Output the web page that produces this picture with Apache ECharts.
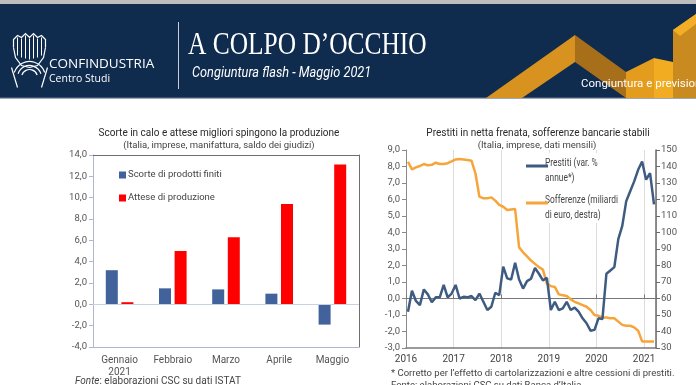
<!DOCTYPE html>
<html><head><meta charset="utf-8">
<script src="https://cdn.jsdelivr.net/npm/echarts@6/dist/echarts.min.js"></script>
<style>html,body{margin:0;padding:0;background:#fff}#c{width:696px;height:385px}</style>
</head><body><div id="c"></div>
<script>
// ---- Left chart data ----
const barCategories = ['Gennaio\n2021', 'Febbraio', 'Marzo', 'Aprile', 'Maggio'];
const scorte = [3.2, 1.5, 1.4, 1.0, -1.9];
const attese = [0.2, 5.0, 6.3, 9.4, 13.1];
const barYTicks = [-4, 14, 2];

// ---- Right chart data (monthly, Jan 2016 - Mar 2021) ----
const yearLabels = [2016, 2017, 2018, 2019, 2020, 2021];
const prestitiName = 'Prestiti (var. %\nannue*)';
const sofferenzeName = 'Sofferenze (miliardi\ndi euro, destra)';
const prestiti = [-0.8, 0.47, -0.15, -0.4, 0.55, 0.25, -0.23, 0.07, 0.07, 0.82, 0.07, 0.3,
  0.82, 0.0, 0.1, 0.07, 0.15, -0.1, 0.3, -0.2, -0.7, -0.5, 0.35, 0.2,
  1.93, 1.22, 1.15, 2.17, 1.15, 0.6, 1.05, 1.2, 1.85, 1.5, 1.1, 1.25,
  -0.7, -0.2, -0.7, -0.6, -0.2, -0.7, -0.55, -0.8, -1.2, -1.5, -1.95, -1.9,
  -1.2, -1.25, 1.5, 1.7, 1.9, 3.6, 4.4, 5.9, 6.5, 7.1, 7.8, 8.3, 7.2, 7.6, 5.7];
const sofferenze = [142.9, 138.3, 139.5, 140.3, 141.5, 140.7, 141, 142.3, 141.5, 141.5, 142, 143.1,
  144.3, 144.5, 144.3, 143.9, 143.5, 135.9, 121.7, 120.7, 120.7, 121.3, 119.3, 116.7,
  115.6, 113.6, 114, 114.2, 91, 88, 85.5, 83, 81, 79, 77.5, 69,
  67.5, 67, 62.5, 62, 61.5, 59.5, 58, 57, 56, 55, 53, 50,
  49.5, 48.5, 48.5, 48, 48, 46, 44, 43.5, 43.5, 42.5, 40.5, 34, 34, 34, 34];

const toXY = arr => arr.map((v, i) => [i + 0.5, v]);
const comma = v => v.toFixed(1).replace('.', ',');

const NAVY = '#0f2b4e';
const FONT = 'Roboto, "Open Sans", sans-serif';
const BLUE_BAR = '#41629a';
const RED_BAR = '#ff0000';
const BLUE_LINE = '#3e5b82';
const ORANGE_LINE = '#f6a53a';

const chart = echarts.init(document.getElementById('c'), null, {renderer: 'canvas'});

const lightAx = '#aab8d2';
const darkAx = '#6e6e6e';

const option = {
  animation: false,
  backgroundColor: '#ffffff',
  textStyle: {fontFamily: FONT},
  title: [
    {text: 'Scorte in calo e attese migliori spingono la produzione', left: 214, top: 123, textAlign: 'center',
     textStyle: {fontSize: 10, fontWeight: 'normal', color: '#2a2a2a', fontFamily: FONT}},
    {text: '(Italia, imprese, manifattura, saldo dei giudizi)', left: 214, top: 136, textAlign: 'center',
     textStyle: {fontSize: 9.5, fontWeight: 'normal', color: '#444', fontFamily: FONT}},
    {text: 'Prestiti in netta frenata, sofferenze bancarie stabili', left: 533, top: 123, textAlign: 'center',
     textStyle: {fontSize: 10, fontWeight: 'normal', color: '#2a2a2a', fontFamily: FONT}},
    {text: '(Italia, imprese, dati mensili)', left: 532, top: 136, textAlign: 'center',
     textStyle: {fontSize: 9.5, fontWeight: 'normal', color: '#444', fontFamily: FONT}}
  ],
  legend: [
    {
      left: 114, top: 164, orient: 'vertical', itemWidth: 7, itemHeight: 7, itemGap: 11,
      icon: 'rect', data: ['Scorte di prodotti finiti', 'Attese di produzione'],
      textStyle: {fontSize: 9.5, color: '#444', lineHeight: 12, padding: [0, 0, 0, -3]}
    },
    {
      // icons only; the (condensed) labels are drawn as graphic text below
      left: 521, top: 153, orient: 'vertical', itemWidth: 22, itemHeight: 30, itemGap: 7, z: 6,
      icon: 'path://M0,0h0.05v0.05h-0.05Z M0,6.5h22v3h-22Z M0,29.95h0.05v0.05h-0.05Z',
      data: [prestitiName, sofferenzeName], formatter: () => '',
      textStyle: {fontSize: 1}
    }
  ],
  grid: [
    {left: 93, top: 155, width: 266, height: 192},
    {left: 406, top: 150, width: 250, height: 198}
  ],
  xAxis: [
    {gridIndex: 0, type: 'category', data: barCategories, position: 'bottom',
     axisLine: {onZero: false, lineStyle: {color: lightAx}}, axisTick: {show: false},
     axisLabel: {fontSize: 10, color: '#555', lineHeight: 12, margin: 7, interval: 0}},
    {gridIndex: 0, type: 'category', data: barCategories, position: 'top',
     axisLine: {onZero: false, lineStyle: {color: darkAx}}, axisTick: {show: false}, axisLabel: {show: false}},
    {gridIndex: 1, type: 'value', min: 0, max: 63, interval: 12, position: 'bottom',
     axisLine: {onZero: false, lineStyle: {color: '#7a7a7a', width: 1.5}}, axisTick: {show: false},
     axisLabel: {fontSize: 10, color: '#444', margin: 6, formatter: v => String(yearLabels[v / 12])},
     splitLine: {show: true, lineStyle: {color: '#dcdcdc'}}},
    {gridIndex: 1, type: 'value', min: 0, max: 63, interval: 12, position: 'bottom',
     axisLine: {onZero: true, lineStyle: {color: '#777', width: 1.2}},
     axisTick: {show: true, inside: true, length: 4, lineStyle: {color: '#777'}},
     axisLabel: {show: false}, splitLine: {show: false}}
  ],
  yAxis: [
    {gridIndex: 0, type: 'value', min: barYTicks[0], max: barYTicks[1], interval: barYTicks[2],
     axisLine: {show: true, lineStyle: {color: lightAx}},
     axisTick: {show: true, length: 4, lineStyle: {color: lightAx}},
     axisLabel: {fontSize: 9.5, color: '#555', margin: 6, formatter: comma}, splitLine: {show: false}},
    {gridIndex: 0, type: 'value', min: barYTicks[0], max: barYTicks[1], interval: barYTicks[2], position: 'right',
     axisLine: {show: true, onZero: false, lineStyle: {color: darkAx}}, axisTick: {show: false},
     axisLabel: {show: false}, splitLine: {show: false}},
    {gridIndex: 1, type: 'value', min: -3, max: 9, interval: 1, position: 'left',
     axisLine: {show: true, onZero: false, lineStyle: {color: '#8a8a8a'}},
     axisTick: {show: true, length: 4, lineStyle: {color: '#8a8a8a'}},
     axisLabel: {fontSize: 9.5, color: '#555', margin: 6, formatter: comma}, splitLine: {show: false}},
    {gridIndex: 1, type: 'value', min: 30, max: 150, interval: 10, position: 'right',
     axisLine: {show: true, onZero: false, lineStyle: {color: '#6a6a6a', width: 1.5}},
     axisTick: {show: true, length: 4, lineStyle: {color: '#6a6a6a'}},
     axisLabel: {fontSize: 9.5, color: '#555', margin: 5}, splitLine: {show: false}}
  ],
  series: [
    {name: 'Scorte di prodotti finiti', type: 'bar', xAxisIndex: 0, yAxisIndex: 0, data: scorte,
     barWidth: 12, barGap: '30%', itemStyle: {color: BLUE_BAR},
     markLine: {silent: true, symbol: 'none', label: {show: false},
       lineStyle: {color: '#c9d2e3', type: 'solid', width: 1}, data: [{yAxis: 0}]}},
    {name: 'Attese di produzione', type: 'bar', xAxisIndex: 0, yAxisIndex: 0, data: attese,
     barWidth: 12, barGap: '30%', itemStyle: {color: RED_BAR}},
    {name: sofferenzeName, type: 'line', xAxisIndex: 2, yAxisIndex: 3,
     data: toXY(sofferenze), symbol: 'none', lineStyle: {color: ORANGE_LINE, width: 2.5},
     itemStyle: {color: ORANGE_LINE}, z: 3},
    {name: prestitiName, type: 'line', xAxisIndex: 2, yAxisIndex: 2,
     data: toXY(prestiti), symbol: 'none', lineStyle: {color: BLUE_LINE, width: 2.5},
     itemStyle: {color: BLUE_LINE}, z: 4}
  ],
  graphic: {elements: [
    // header band
    {type: 'rect', left: 0, top: 0, shape: {width: 696, height: 4}, style: {fill: '#bdbdbd'}, silent: true},
    {type: 'rect', left: 0, top: 4, shape: {width: 696, height: 94}, style: {fill: NAVY}, silent: true},
    {type: 'rect', left: 0, top: 97, shape: {width: 696, height: 1.5}, style: {fill: '#3b5170'}, silent: true},
    // orange ribbon
    {type: 'polygon', shape: {points: [[486, 98], [522, 98], [575, 62], [575, 35]]}, style: {fill: '#d8921f'}, silent: true},
    {type: 'polygon', shape: {points: [[575, 35], [626, 72], [626, 98], [575, 62]]}, style: {fill: '#a86f1a'}, silent: true},
    {type: 'polygon', shape: {points: [[626, 72], [654, 58], [654, 98], [626, 98]]}, style: {fill: '#e39c1e'}, silent: true},
    {type: 'polygon', shape: {points: [[654, 58], [673, 62], [673, 98], [654, 98]]}, style: {fill: '#f2ac22'}, silent: true},
    {type: 'polygon', shape: {points: [[673, 30], [696, 14], [696, 98], [673, 98]]}, style: {fill: '#c98a1f'}, silent: true},
    {type: 'polygon', shape: {points: [[673, 30], [696, 14], [696, 24], [680, 36]]}, style: {fill: '#f3ae28'}, silent: true},
    {type: 'text', left: 581, top: 78, style: {text: 'Congiuntura e previsioni', fill: '#ffffff', font: '11.5px ' + FONT}, silent: true},
    // logo (stylised eagle)
    {type: 'group', left: 9, top: 31, silent: true, children: [
      {type: 'polyline', shape: {points: [[2, 14], [2, 6], [6, 2], [10, 4], [14, 0], [18, 4], [22, 0], [26, 4], [30, 2], [34, 6], [34, 14]]},
       style: {stroke: '#fff', fill: null, lineWidth: 1.2}},
      {type: 'line', shape: {x1: 6, y1: 4, x2: 6, y2: 22}, style: {stroke: '#fff', lineWidth: 1}},
      {type: 'line', shape: {x1: 10, y1: 5, x2: 10, y2: 24}, style: {stroke: '#fff', lineWidth: 1}},
      {type: 'line', shape: {x1: 14, y1: 2, x2: 14, y2: 25}, style: {stroke: '#fff', lineWidth: 1}},
      {type: 'line', shape: {x1: 18, y1: 5, x2: 18, y2: 26}, style: {stroke: '#fff', lineWidth: 1}},
      {type: 'line', shape: {x1: 22, y1: 2, x2: 22, y2: 25}, style: {stroke: '#fff', lineWidth: 1}},
      {type: 'line', shape: {x1: 26, y1: 5, x2: 26, y2: 24}, style: {stroke: '#fff', lineWidth: 1}},
      {type: 'line', shape: {x1: 30, y1: 4, x2: 30, y2: 22}, style: {stroke: '#fff', lineWidth: 1}},
      {type: 'polyline', shape: {points: [[2, 14], [4, 24], [10, 32], [18, 34], [26, 32], [32, 24], [34, 14]]},
       style: {stroke: '#fff', fill: null, lineWidth: 1.2}},
      {type: 'arc', shape: {cx: 18, cy: 44, r: 12, startAngle: Math.PI * 1.1, endAngle: Math.PI * 1.9}, style: {stroke: '#fff', fill: null, lineWidth: 1.2}},
      {type: 'arc', shape: {cx: 18, cy: 44, r: 8, startAngle: Math.PI * 1.1, endAngle: Math.PI * 1.9}, style: {stroke: '#fff', fill: null, lineWidth: 1.2}},
      {type: 'arc', shape: {cx: 18, cy: 44, r: 16, startAngle: Math.PI * 1.1, endAngle: Math.PI * 1.9}, style: {stroke: '#fff', fill: null, lineWidth: 1.2}},
      {type: 'line', shape: {x1: 0, y1: 34, x2: 6, y2: 54}, style: {stroke: '#fff', lineWidth: 1.2}},
      {type: 'line', shape: {x1: 36, y1: 34, x2: 30, y2: 54}, style: {stroke: '#fff', lineWidth: 1.2}}
    ]},
    {type: 'text', left: 49, top: 57, style: {text: 'CONFINDUSTRIA', fill: '#ffffff', font: '13.5px "Open Sans", ' + FONT}, silent: true},
    {type: 'text', left: 49, top: 74, style: {text: 'Centro Studi', fill: '#ffffff', font: '10.5px "Open Sans", ' + FONT}, silent: true},
    {type: 'rect', left: 178, top: 22, shape: {width: 1, height: 67}, style: {fill: '#c8ced8'}, silent: true},
    {type: 'text', left: 188, top: 30, scaleX: 0.82, style: {text: 'A COLPO D\u2019OCCHIO', fill: '#ffffff', font: '31px "Liberation Serif", "DejaVu Serif", serif'}, silent: true},
    {type: 'text', left: 192, top: 66, scaleX: 0.85, style: {text: 'Congiuntura flash - Maggio 2021', fill: '#ffffff', font: 'italic 15px ' + FONT}, silent: true},
    // right-chart legend box (white fill hides gridlines) and condensed labels
    {type: 'rect', x: 519, y: 153, z: 1, shape: {width: 102, height: 70}, style: {fill: '#ffffff'}, silent: true},
    {type: 'text', x: 545, y: 156, z: 6, scaleX: 0.8, style: {text: prestitiName, fill: '#444', font: '10.5px ' + FONT, lineHeight: 15}, silent: true},
    {type: 'text', x: 545, y: 193, z: 6, scaleX: 0.8, style: {text: sofferenzeName, fill: '#444', font: '10.5px ' + FONT, lineHeight: 15}, silent: true},
    // footnotes
    {type: 'text', left: 75, top: 376, style: {text: '{i|Fonte}: elaborazioni CSC su dati ISTAT', fill: '#444', font: '10px ' + FONT,
      rich: {i: {fontStyle: 'italic', fontSize: 10, fill: '#444', fontFamily: FONT}}}, silent: true},
    {type: 'text', left: 391, top: 369, style: {text: '* Corretto per l\u2019effetto di cartolarizzazioni e altre cessioni di prestiti.', fill: '#444', font: '9.5px ' + FONT}, silent: true},
    {type: 'text', left: 391, top: 381, style: {text: 'Fonte: elaborazioni CSC su dati Banca d\u2019Italia.', fill: '#444', font: '9.5px ' + FONT}, silent: true}
  ]}
};
chart.setOption(option);
</script>
</body></html>
